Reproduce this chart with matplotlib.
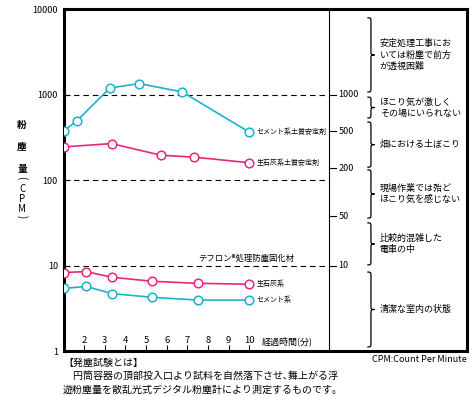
import matplotlib

matplotlib.use("Agg")
import matplotlib.pyplot as plt
from matplotlib.path import Path
from matplotlib.patches import PathPatch


# elapsed time (min) and dust count (CPM)
TIME_CEMENT_SOIL = [1.0, 1.65, 3.25, 4.66, 6.75, 10.0]
CPM_CEMENT_SOIL = [375, 495, 1200, 1350, 1080, 365]
TIME_LIME_SOIL = [1.0, 3.33, 5.71, 7.32, 10.0]
CPM_LIME_SOIL = [245, 268, 196, 186, 160]
TIME_LIME = [1.0, 2.1, 3.35, 5.3, 7.5, 10.0]
CPM_LIME = [8.3, 8.5, 7.3, 6.55, 6.2, 6.05]
TIME_CEMENT = [1.0, 2.1, 3.35, 5.3, 7.5, 10.0]
CPM_CEMENT = [5.4, 5.7, 4.7, 4.25, 3.95, 3.95]

SERIES_LABELS = ["セメント系土質安定剤", "生石灰系土質安定剤", "生石灰系", "セメント系"]

X_TICKS = [2, 3, 4, 5, 6, 7, 8, 9, 10]
Y_TICKS = [1, 10, 100, 1000, 10000]
Y_TICK_LABELS = ["1", "10", "100", "1000", "10000"]
REF_LINES = [10, 100, 1000]

# right-hand reference scale (labels and where they sit on the main axis)
RIGHT_LABELS = ["1000", "500", "200", "50", "10"]
RIGHT_POS = [1000, 375, 138, 38, 10]

# dust level descriptions, bracket extent in axes fraction (bottom, top)
LEVEL_TEXTS = [
    "安定処理工事にお\nいては粉塵で前方\nが透視困難",
    "ほこり気が激しく\nその場にいられない",
    "畑における土ぼこり",
    "現場作業では殆ど\nほこり気を感じない",
    "比較的混雑した\n電車の中",
    "清潔な室内の状態",
]
LEVEL_SPANS = [
    (0.758, 0.975),
    (0.682, 0.743),
    (0.538, 0.670),
    (0.389, 0.530),
    (0.252, 0.375),
    (0.012, 0.231),
]

CYAN = "#1AB3CC"
PINK = "#E8267A"
DIVIDER_X = 13.87

plt.rcParams["font.family"] = ["Noto Sans CJK JP", "DejaVu Sans"]
plt.rcParams["axes.unicode_minus"] = False


def draw_brace(ax, y0, y1, x0=0.761, w=0.009, c=0.014):
    ym = (y0 + y1) / 2
    verts = [
        (x0 - w, y1), (x0, y1), (x0, y1), (x0, y1 - c),
        (x0, ym + c),
        (x0, ym), (x0, ym), (x0 + w, ym),
        (x0, ym), (x0, ym), (x0, ym - c),
        (x0, y0 + c),
        (x0, y0), (x0, y0), (x0 - w, y0),
    ]
    codes = [Path.MOVETO] + [Path.CURVE4] * 3 + [Path.LINETO] + [Path.CURVE4] * 6 \
        + [Path.LINETO] + [Path.CURVE4] * 3
    patch = PathPatch(Path(verts, codes), fill=False, lw=0.9, color="black",
                      transform=ax.transAxes, clip_on=False)
    ax.add_patch(patch)


fig = plt.figure(figsize=(4.75, 3.96), dpi=100)
ax = fig.add_axes([0.1337, 0.1136, 0.8505, 0.8629])
ax.set_yscale("log")
ax.set_xlim(1, 20.58)
ax.set_ylim(1, 10000)

for s in ax.spines.values():
    s.set_linewidth(2.2)

ax.set_yticks(Y_TICKS, labels=Y_TICK_LABELS)
ax.yaxis.set_minor_locator(matplotlib.ticker.NullLocator())
ax.tick_params(axis="y", direction="in", length=4, width=0.8, pad=4, labelsize=6.5)
ax.set_xticks(X_TICKS, labels=[str(t) for t in X_TICKS])
ax.tick_params(axis="x", direction="in", length=4, width=0.8, pad=-11, labelsize=6.8)

for v in REF_LINES:
    ax.plot([1, DIVIDER_X], [v, v], color="black", lw=0.8, ls=(0, (5, 3.5)))
ax.axvline(DIVIDER_X, color="black", lw=0.8)

for lab, v in zip(RIGHT_LABELS, RIGHT_POS):
    ax.plot([DIVIDER_X, DIVIDER_X + 0.35], [v, v], color="black", lw=0.8)
    ax.text(DIVIDER_X + 0.45, v, lab, fontsize=6.5, va="center", ha="left")

series = [
    (TIME_CEMENT_SOIL, CPM_CEMENT_SOIL, CYAN),
    (TIME_LIME_SOIL, CPM_LIME_SOIL, PINK),
    (TIME_LIME, CPM_LIME, PINK),
    (TIME_CEMENT, CPM_CEMENT, CYAN),
]
for (t, cpm, color), label in zip(series, SERIES_LABELS):
    ax.plot(t, cpm, color=color, lw=1.2, marker="o", ms=6.2, mfc="white",
            mec=color, mew=1.1, zorder=3)
    ax.annotate(label, (t[-1], cpm[-1]), xytext=(5.5, 0), textcoords="offset points",
                fontsize=5.0, va="center", ha="left")

ax.annotate("テフロン®処理防塵固化材", (7.52, 10), xytext=(0, 2),
            textcoords="offset points", fontsize=6.0, va="bottom", ha="left")
ax.text(10.62, 0.029, "経過時間(分)", transform=ax.get_xaxis_transform(),
        fontsize=6.5, va="center", ha="left")

for text, (y0, y1) in zip(LEVEL_TEXTS, LEVEL_SPANS):
    draw_brace(ax, y0, y1)
    ax.text(0.783, (y0 + y1) / 2, text, transform=ax.transAxes, fontsize=6.5,
            va="center", ha="left", linespacing=1.3)

# vertical y-axis title
for ch, ypx in zip(["粉", "塵", "量"], [125, 147, 169]):
    fig.text(22 / 475, 1 - ypx / 396, ch, fontsize=7, fontweight="bold",
             ha="center", va="center")
for ch, ypx, rot in zip(["(", "C", "P", "M", ")"], [178, 189, 199, 209, 217],
                        [-90, 0, 0, 0, -90]):
    fig.text(22 / 475, 1 - ypx / 396, ch, fontsize=7, ha="center", va="center",
             rotation=rot)

fig.text(63 / 475, 1 - 363 / 396, "【発塵試験とは】", fontsize=7.2, va="center")
fig.text(63 / 475, 1 - 376 / 396, "　円筒容器の頂部投入口より試料を自然落下させ､舞上がる浮",
         fontsize=7.2, va="center")
fig.text(63 / 475, 1 - 390 / 396, "遊粉塵量を散乱光式デジタル粉塵計により測定するものです。",
         fontsize=7.2, va="center")
fig.text(467 / 475, 1 - 359 / 396, "CPM:Count Per Minute", fontsize=6.5,
         va="center", ha="right")

fig.savefig("out.png", dpi=100)
